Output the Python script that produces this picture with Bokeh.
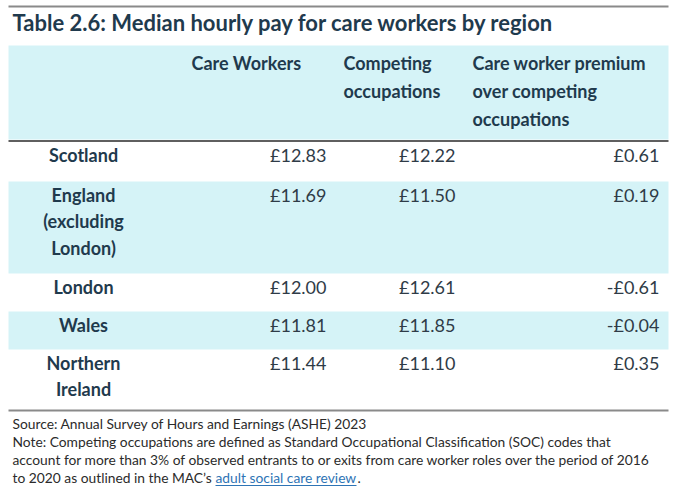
from bokeh.plotting import figure
from bokeh.models import Range1d, ColumnDataSource
from bokeh.core.properties import value
from bokeh.embed import file_html
from bokeh.resources import INLINE

# ---- data ----
title = "Table 2.6: Median hourly pay for care workers by region"
col_headers = [["Care Workers"], ["Competing", "occupations"],
               ["Care worker premium", "over competing", "occupations"]]
regions = [["Scotland"], ["England", "(excluding", "London)"], ["London"],
           ["Wales"], ["Northern", "Ireland"]]
care_workers = [12.83, 11.69, 12.00, 11.81, 11.44]
competing = [12.22, 11.50, 12.61, 11.85, 11.10]
premium = [0.61, 0.19, -0.61, -0.04, 0.35]
source_note = "Source: Annual Survey of Hours and Earnings (ASHE) 2023"
note_lines = [
    "Note: Competing occupations are defined as Standard Occupational Classification (SOC) codes that",
    "account for more than 3% of observed entrants to or exits from care worker roles over the period of 2016",
    "to 2020 as outlined in the MAC\u2019s",
]
link_text = "adult social care review"

# ---- styles / layout ----
FONT = "Lato"
BAND = "#d5f3f7"
DARK = "#1f3a4d"
VAL = "#2f3b47"
NOTE = "#2b2b2b"
LINK = "#2e74b5"
X0, X1 = 8, 668
header_top, header_bot = 45, 139
row_heights = [40, 92, 38, 38, 56]
line_gap = 26.8
W, H = 676, 490

def money(v):
    return ("-\u00a3%.2f" % abs(v)) if v < 0 else ("\u00a3%.2f" % v)

p = figure(width=W, height=H, x_range=Range1d(0, W), y_range=Range1d(H, 0),
           output_backend="svg", toolbar_location=None, min_border=0)
p.axis.visible = False
p.grid.visible = False
p.outline_line_color = None
p.background_fill_color = "white"
p.border_fill_color = "white"

# top rule
p.segment(x0=[X0], y0=[6], x1=[X1], y1=[6], line_color="#8a8a8a", line_width=2)
# title
p.text(x=[12], y=[22], text=[title], text_font=value(FONT), text_font_style="bold",
       text_font_size="22px", text_color=DARK, text_baseline="middle", text_align="left")

# header band
p.quad(left=[X0], right=[X1], top=[header_top], bottom=[header_bot],
       fill_color=BAND, line_color=None)
p.segment(x0=[X0], y0=[140.5], x1=[X1], y1=[140.5], line_color="#2a2a2a", line_width=1.5)

hdr_x = [191, 343, 472]
hx, hy, ht = [], [], []
for cx, lines in zip(hdr_x, col_headers):
    for j, t in enumerate(lines):
        hx.append(cx); hy.append(62 + 28 * j); ht.append(t)
p.text(x=hx, y=hy, text=ht, text_font=value(FONT), text_font_style="bold",
       text_font_size="18px", text_color=DARK, text_baseline="middle", text_align="left")

# rows
tops = []
t = 141
for h in row_heights:
    tops.append(t)
    t += h
bottoms = [a + h for a, h in zip(tops, row_heights)]
band_idx = [i for i in range(len(regions)) if i % 2 == 1]
p.quad(left=[X0] * len(band_idx), right=[X1] * len(band_idx),
       top=[tops[i] for i in band_idx], bottom=[bottoms[i] for i in band_idx],
       fill_color=BAND, line_color=None)

rx, ry, rt = [], [], []
for i, lines in enumerate(regions):
    for j, s in enumerate(lines):
        rx.append(83); ry.append(tops[i] + 13 + line_gap * j); rt.append(s)
p.text(x=rx, y=ry, text=rt, text_font=value(FONT), text_font_style="bold",
       text_font_size="18px", text_color=DARK, text_baseline="middle", text_align="center")

first_y = [a + 13 for a in tops]
src = ColumnDataSource(dict(
    y=first_y,
    cw=[money(v) for v in care_workers],
    co=[money(v) for v in competing],
    pr=[money(v) for v in premium],
))
for col, xr in (("cw", 326), ("co", 455), ("pr", 659)):
    p.text(x=xr, y="y", text=col, source=src, text_font=value(FONT),
           text_font_size="18px", text_color=VAL, text_baseline="middle", text_align="right")

# bottom rule
p.segment(x0=[X0], y0=[410], x1=[X1], y1=[410], line_color="#8a8a8a", line_width=2)

# notes
ny = [423, 441, 459, 477]
NFS = "13.8px"
p.text(x=[12] * 4, y=ny, text=[source_note] + note_lines, text_font=value(FONT),
       text_font_size=NFS, text_color=NOTE, text_baseline="middle", text_align="left")
LX0, LX1 = 215, 356
p.text(x=[LX0], y=[477], text=[link_text], text_font=value(FONT),
       text_font_size=NFS, text_color=LINK, text_baseline="middle", text_align="left")
p.text(x=[LX1 + 1], y=[477], text=["."], text_font=value(FONT),
       text_font_size=NFS, text_color=NOTE, text_baseline="middle", text_align="left")
p.segment(x0=[LX0], y0=[485], x1=[LX1], y1=[485], line_color=LINK, line_width=1)

open("out.html", "w").write(file_html(p, INLINE))
